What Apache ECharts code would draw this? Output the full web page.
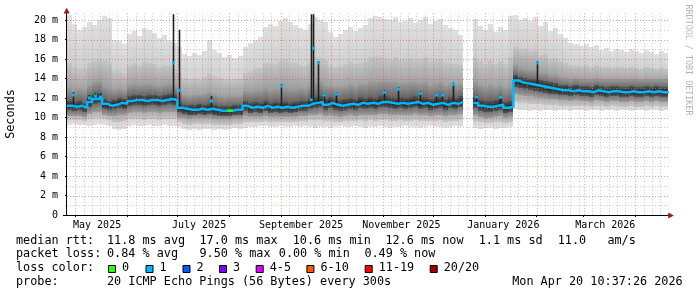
<!DOCTYPE html>
<html><head><meta charset="utf-8">
<script src="https://cdn.jsdelivr.net/npm/echarts@6/dist/echarts.min.js"></script>
<style>html,body{margin:0;padding:0;background:#fff}#c{width:697px;height:297px}</style>
</head><body><div id="c"></div><script>
// ---------- axis definitions ----------
const START_DATE = '2025-04-26';
const END_DAY = 359.5;
const SAMPLE_DAYS = 3;
const monthStartDates = ['2025-05-01','2025-06-01','2025-07-01','2025-08-01','2025-09-01','2025-10-01','2025-11-01','2025-12-01','2026-01-01','2026-02-01','2026-03-01','2026-04-01'];
const xLabelDates = ['2025-05-14','2025-07-14','2025-09-13','2025-11-12','2026-01-12','2026-03-14'];
const xLabelText = ['May 2025','July 2025','September 2025','November 2025','January 2026','March 2026'];
const yTickValues = [0,2,4,6,8,10,12,14,16,18,20];
const yTickText = ['0','2 m','4 m','6 m','8 m','10 m','12 m','14 m','16 m','18 m','20 m'];
const yMinorValues = [1,3,5,7,9,11,13,15,17,19];
const Y_MAX = 20.7;

// ---------- data (ms), one value per 3-day sample ----------
const median = [
11.2,11.1,11.2,11.0,11.6,11.9,12.0,11.4,11.2,11.3,
11.5,11.4,11.7,11.8,11.8,11.7,11.8,11.8,11.7,11.8,
11.9,11.8,11.0,10.9,10.8,10.8,10.9,10.8,10.9,10.8,
10.7,10.7,10.7,10.8,10.8,11.2,11.0,11.1,11.0,11.2,
11.0,11.1,11.0,11.1,11.0,11.1,11.2,11.2,11.4,11.5,
11.6,11.3,11.5,11.3,11.2,11.3,11.4,11.3,11.5,11.4,
11.5,11.4,11.6,11.6,11.5,11.4,11.5,11.4,11.5,11.6,
11.4,11.5,11.3,11.4,11.5,11.3,11.5,11.4,11.6,null,
null,11.5,11.2,11.1,11.1,11.2,11.3,11.0,11.1,13.8,
13.6,13.5,13.4,13.3,13.2,13.1,13.0,12.9,12.8,12.8,
12.7,12.8,12.7,12.7,12.6,12.8,12.7,12.6,12.7,12.7,
12.6,12.6,12.7,12.6,12.6,12.7,12.6,12.7,12.6,12.6];
const smokeMax = [
20.5,19.6,19.0,19.3,19.8,19.5,20.0,20.4,20.2,18.0,
17.8,17.5,18.6,18.9,18.4,19.2,19.0,18.7,18.2,18.5,
18.0,17.6,17.2,16.5,16.3,16.6,16.4,16.8,18.0,16.9,
16.6,16.2,16.4,16.1,16.3,17.2,17.6,18.0,18.3,19.3,
19.6,19.4,19.9,20.2,19.8,19.5,19.2,19.0,19.6,20.3,
20.0,19.8,18.8,18.3,18.6,19.0,19.3,18.9,19.2,19.5,
20.2,20.4,20.3,20.1,20.0,20.3,19.8,19.9,20.2,19.7,
20.0,20.3,19.6,19.9,20.1,19.5,19.2,19.0,18.5,null,
null,20.1,19.4,19.0,19.6,18.8,19.3,19.0,20.4,20.5,
20.0,20.2,19.9,20.3,19.4,19.8,18.9,19.2,18.6,18.2,
17.6,17.5,17.3,17.5,17.2,17.4,16.9,17.1,16.8,17.0,
16.9,16.7,17.0,16.8,16.6,16.9,16.7,16.5,16.8,16.6];
const smokeMin = [
9.2,9.3,9.2,9.2,9.1,9.2,9.3,9.2,9.1,8.8,
8.7,8.8,9.1,9.2,9.1,9.1,9.2,9.1,9.1,9.2,
9.1,9.1,9.0,8.8,8.7,8.8,8.7,8.8,8.8,8.7,
8.8,8.7,8.8,8.9,8.8,8.9,9.0,9.0,9.1,9.1,
9.0,9.0,9.1,9.0,9.0,9.1,9.0,9.1,9.0,8.9,
9.0,9.0,8.9,9.0,9.1,9.0,9.0,9.1,9.0,8.9,
9.0,9.0,9.1,9.0,8.9,9.0,9.0,9.1,9.0,9.0,
8.9,9.0,9.1,9.0,9.0,8.9,9.0,9.1,9.0,null,
null,8.9,8.8,8.9,8.9,8.8,8.9,8.9,9.0,10.9,
10.8,10.8,10.7,10.8,10.7,10.8,10.8,10.7,10.8,10.8,
10.7,10.8,10.8,10.7,10.8,10.8,10.7,10.8,10.8,10.7,
10.8,10.8,10.7,10.8,10.8,10.7,10.8,10.8,10.7,10.8];
const q10 = [
9.7,9.7,9.7,9.6,9.8,9.9,9.9,9.8,9.7,9.5,
9.5,9.6,9.8,9.8,9.8,9.7,9.8,9.8,9.7,9.8,
9.8,9.8,9.5,9.3,9.2,9.3,9.3,9.3,9.3,9.2,
9.2,9.2,9.2,9.3,9.3,9.5,9.5,9.5,9.5,9.6,
9.5,9.5,9.5,9.5,9.5,9.5,9.6,9.6,9.7,9.7,
9.7,9.6,9.6,9.5,9.5,9.6,9.6,9.6,9.7,9.6,
9.7,9.6,9.7,9.7,9.6,9.6,9.7,9.6,9.6,9.7,
9.6,9.6,9.6,9.6,9.7,9.5,9.6,9.6,9.7,null,
null,9.6,9.5,9.4,9.4,9.5,9.5,9.4,9.5,11.6,
11.5,11.5,11.4,11.4,11.4,11.3,11.3,11.3,11.2,11.2,
11.2,11.2,11.2,11.2,11.1,11.2,11.2,11.1,11.2,11.2,
11.1,11.1,11.2,11.1,11.1,11.2,11.1,11.2,11.1,11.1];
const q25 = [
10.2,10.2,10.2,10.1,10.4,10.6,10.6,10.3,10.2,10.2,
10.3,10.3,10.5,10.6,10.6,10.5,10.6,10.6,10.5,10.6,
10.6,10.6,10.0,9.9,9.8,9.9,9.9,9.9,9.9,9.8,
9.8,9.8,9.8,9.9,9.9,10.2,10.1,10.1,10.1,10.2,
10.1,10.1,10.1,10.1,10.1,10.1,10.2,10.2,10.3,10.3,
10.4,10.2,10.3,10.2,10.1,10.2,10.3,10.2,10.3,10.3,
10.3,10.3,10.4,10.4,10.3,10.3,10.3,10.3,10.3,10.4,
10.3,10.3,10.2,10.3,10.3,10.2,10.3,10.3,10.4,null,
null,10.3,10.1,10.0,10.0,10.1,10.2,10.0,10.1,12.4,
12.3,12.2,12.2,12.1,12.0,12.0,11.9,11.9,11.8,11.8,
11.7,11.8,11.7,11.7,11.6,11.8,11.7,11.6,11.7,11.7,
11.6,11.6,11.7,11.6,11.6,11.7,11.6,11.7,11.6,11.6];
const q40 = [
10.8,10.7,10.8,10.6,11.1,11.4,11.5,10.9,10.8,10.9,
11.0,10.9,11.2,11.3,11.3,11.2,11.3,11.3,11.2,11.3,
11.4,11.3,10.6,10.4,10.3,10.3,10.4,10.3,10.4,10.3,
10.2,10.2,10.2,10.3,10.3,10.7,10.5,10.6,10.5,10.7,
10.5,10.6,10.5,10.6,10.5,10.6,10.7,10.7,10.9,11.0,
11.1,10.8,11.0,10.8,10.7,10.8,10.9,10.8,11.0,10.9,
11.0,10.9,11.1,11.1,11.0,10.9,11.0,10.9,11.0,11.1,
10.9,11.0,10.8,10.9,11.0,10.8,11.0,10.9,11.1,null,
null,11.0,10.7,10.6,10.6,10.7,10.8,10.5,10.6,13.1,
13.0,12.9,12.8,12.7,12.6,12.5,12.4,12.4,12.3,12.3,
12.2,12.3,12.2,12.2,12.1,12.3,12.2,12.1,12.2,12.2,
12.1,12.1,12.2,12.1,12.1,12.2,12.1,12.2,12.1,12.1];
const q60 = [
11.7,11.6,11.7,11.5,12.1,12.4,12.5,11.9,11.7,11.8,
12.0,11.9,12.2,12.3,12.3,12.2,12.3,12.3,12.2,12.3,
12.4,12.3,11.5,11.3,11.3,11.3,11.4,11.3,11.4,11.3,
11.2,11.2,11.2,11.3,11.3,11.7,11.5,11.6,11.5,11.7,
11.5,11.6,11.5,11.6,11.5,11.6,11.7,11.7,11.9,12.1,
12.2,11.9,12.1,11.9,11.8,11.9,12.0,11.9,12.1,12.0,
12.1,12.0,12.2,12.2,12.1,12.0,12.1,12.0,12.1,12.2,
12.0,12.1,11.9,12.0,12.1,11.9,12.1,12.0,12.2,null,
null,12.1,11.8,11.7,11.7,11.8,11.9,11.6,11.7,14.4,
14.2,14.1,14.0,13.9,13.8,13.7,13.6,13.5,13.3,13.3,
13.2,13.3,13.2,13.2,13.1,13.3,13.2,13.1,13.2,13.2,
13.1,13.1,13.2,13.1,13.1,13.2,13.1,13.2,13.1,13.1];
const q75 = [
13.0,12.8,12.9,12.8,13.3,13.6,13.7,13.2,13.0,12.8,
12.9,12.8,13.3,13.4,13.3,13.4,13.4,13.3,13.2,13.3,
13.4,13.2,12.6,12.3,12.2,12.3,12.3,12.4,12.6,12.4,
12.2,12.1,12.2,12.2,12.2,12.7,12.7,12.8,12.8,13.0,
12.8,12.9,12.9,13.0,12.9,12.9,13.0,12.9,13.2,13.5,
13.6,13.3,13.2,13.1,13.1,13.2,13.4,13.2,13.4,13.4,
13.6,13.6,13.7,13.7,13.6,13.6,13.5,13.5,13.6,13.6,
13.5,13.6,13.3,13.4,13.6,13.3,13.4,13.3,13.4,null,
null,13.6,13.3,13.1,13.3,13.1,13.3,13.0,13.2,15.4,
15.1,15.0,14.9,14.9,14.6,14.6,14.4,14.4,14.2,14.1,
14.0,14.1,14.0,14.0,13.9,14.1,14.0,13.9,14.0,14.0,
13.9,13.9,14.0,13.9,13.9,14.0,13.9,14.0,13.9,13.9];
const q90 = [
15.6,15.2,15.0,15.1,15.6,15.8,16.0,15.9,15.7,14.8,
14.8,14.6,15.4,15.6,15.4,15.7,15.6,15.5,15.2,15.4,
15.3,15.0,14.6,14.1,14.0,14.1,14.0,14.2,14.6,14.3,
14.1,13.9,14.0,13.9,14.0,14.6,14.8,15.0,15.1,15.6,
15.6,15.5,15.8,16.0,15.7,15.6,15.4,15.3,15.7,16.2,
16.1,15.9,15.4,15.2,15.3,15.5,15.7,15.5,15.6,15.8,
16.2,16.3,16.2,16.1,16.0,16.2,15.9,15.9,16.1,15.9,
16.0,16.2,15.8,15.9,16.0,15.7,15.6,15.5,15.4,null,
null,16.2,15.8,15.5,15.9,15.5,15.8,15.5,16.2,17.2,
17.0,17.0,16.8,16.9,16.4,16.5,16.0,16.1,15.8,15.6,
15.4,15.4,15.3,15.4,15.2,15.4,15.2,15.2,15.1,15.2,
15.2,15.1,15.2,15.1,15.0,15.2,15.1,15.0,15.1,15.0];
// single-step spikes: day offset, top of dark column, median value
const spikeDays = [3.6,13.2,17.0,19.7,63.4,67.0,86.1,128.0,145.7,146.9,150.2,153.7,160.9,189.6,198.0,211.2,220.7,224.3,230.9,244.7,259.0,281.2];
const spikeTops = [12.6,12.3,12.5,12.4,20.6,19.0,12.2,13.4,20.6,20.6,15.8,12.5,12.6,12.8,13.1,12.7,12.5,12.5,13.6,12.3,12.3,15.8];
const spikeMeds = [12.3,12.0,12.2,12.1,15.6,12.8,11.7,13.2,11.8,17.1,15.6,12.3,12.4,12.6,12.9,12.5,12.3,12.3,13.4,12.1,12.1,15.6];
const lossZeroSamples = [32];

// ---------- legend texts ----------
const rttItems = ['median rtt:','11.8 ms avg','17.0 ms max','10.6 ms min','12.6 ms now','1.1 ms sd','11.0   am/s'];
const lossItems = ['packet loss:','0.84 % avg','9.50 % max','0.00 % min','0.49 % now'];
const lossColorTitle = 'loss color:';
const lossLabels = ['0','1','2','3','4-5','6-10','11-19','20/20'];
const probeItems = ['probe:','20 ICMP Echo Pings (56 Bytes) every 300s','Mon Apr 20 10:37:26 2026'];
const yTitle = 'Seconds';
const watermark = 'RRDTOOL / TOBI OETIKER';

// ---------- layout & style ----------
const lossColors = ['#26ff00','#00b8ff','#0059ff','#7e00ff','#dd00ff','#ff5500','#ff0000','#a10000'];
const rttX = [16,107,199.5,292.7,385.4,478.7,557.7];
const lossX = [16,107,199.5,278.8,364.4];
const boxX = [108,145.5,182.5,219,255.7,306.4,364.7,429.7];
const probeX = [16,107,512.2];
const rowY = [240.6,254.4,268.4,282.2];
const MONO = '"DejaVu Sans Mono", monospace';
// [edge colour, colour at the median] for each smoke band, outermost first
const bandStyles = [['#e0e0e0','#bcbcbc'],['#c6c6c6','#828282'],['#9c9c9c','#4e4e4e'],['#565656','#222222']];

const dayOf = s => (Date.parse(s + 'T00:00:00Z') - Date.parse(START_DATE + 'T00:00:00Z')) / 86400000;
const monthDays = monthStartDates.map(dayOf);
const minorDays = [];
monthDays.forEach(d => { for (let i = 1; i <= 5; i++) { const v = d + 5 * i; if (v < END_DAY) minorDays.push(v); } });
const labelDays = xLabelDates.map(dayOf);

function bandSeries(lo, hi, style, z) {
  const data = [];
  for (let k = 0; k < lo.length; k++) if (lo[k] != null && hi[k] != null) data.push([k * SAMPLE_DAYS, lo[k], hi[k], median[k]]);
  return {
    type: 'custom', z, silent: true, clip: true, animation: false, data,
    encode: { x: 0, y: [1, 2] },
    renderItem(params, api) {
      const d0 = api.value(0);
      const a = api.coord([d0, api.value(2)]);
      const b = api.coord([d0 + SAMPLE_DAYS, api.value(1)]);
      const m = api.coord([d0, api.value(3)]);
      const x0 = Math.round(a[0]), x1 = Math.round(b[0]);
      const y0 = Math.round(a[1]), y1 = Math.round(b[1]);
      let t = (m[1] - y0) / Math.max(1, (y1 - y0));
      t = Math.min(0.97, Math.max(0.03, t));
      const fill = new echarts.graphic.LinearGradient(0, 0, 0, 1, [
        { offset: 0, color: style[0] }, { offset: t, color: style[1] }, { offset: 1, color: style[0] }
      ]);
      return { type: 'rect', shape: { x: x0, y: y0, width: x1 - x0, height: y1 - y0 }, style: { fill } };
    }
  };
}
function vGrid(days, color, z) {
  return {
    type: 'custom', z, silent: true, animation: false, data: days.map(d => [d, 0]),
    renderItem(params, api) {
      const cs = params.coordSys;
      const x = Math.round(api.coord([api.value(0), 0])[0]) + 0.5;
      return { type: 'line', shape: { x1: x, y1: cs.y, x2: x, y2: cs.y + cs.height }, style: { stroke: color, lineWidth: 1, lineDash: [1, 2] } };
    }
  };
}
function hGrid(vals, color, z) {
  return {
    type: 'custom', z, silent: true, animation: false, data: vals.map(v => [0, v]),
    renderItem(params, api) {
      const cs = params.coordSys;
      const y = Math.round(api.coord([0, api.value(1)])[1]) + 0.5;
      return { type: 'line', shape: { x1: cs.x, y1: y, x2: cs.x + cs.width, y2: y }, style: { stroke: color, lineWidth: 1, lineDash: [1, 2] } };
    }
  };
}

const medLine = [];
for (let k = 0; k < median.length; k++) {
  if (median[k] == null) { medLine.push([k * SAMPLE_DAYS, '-']); continue; }
  medLine.push([k * SAMPLE_DAYS, median[k]], [(k + 1) * SAMPLE_DAYS, median[k]]);
}
const greenLine = [];
lossZeroSamples.forEach(k => { greenLine.push([k * SAMPLE_DAYS, median[k]], [(k + 1) * SAMPLE_DAYS, median[k]], [k * SAMPLE_DAYS, '-']); });

const chart = echarts.init(document.getElementById('c'), null, { renderer: 'canvas' });
const graphic = [];
graphic.push({ type: 'line', shape: { x1: 66.5, y1: 216, x2: 66.5, y2: 11 }, style: { stroke: '#000', lineWidth: 1 }, z: 20 });
graphic.push({ type: 'line', shape: { x1: 63, y1: 215.5, x2: 669, y2: 215.5 }, style: { stroke: '#000', lineWidth: 1 }, z: 20 });
graphic.push({ type: 'polygon', shape: { points: [[66.7, 7.8], [63.6, 13.6], [69.8, 13.6]] }, style: { fill: '#a01818' }, z: 21 });
graphic.push({ type: 'polygon', shape: { points: [[673.8, 215.5], [668.2, 212.6], [668.2, 218.4]] }, style: { fill: '#a01818' }, z: 21 });
graphic.push({ type: 'text', x: 11, y: 114, rotation: Math.PI / 2, style: { text: yTitle, font: '11.8px ' + MONO, fill: '#000', align: 'center', verticalAlign: 'middle' } });
graphic.push({ type: 'text', x: 688.3, y: 60, rotation: -Math.PI / 2, style: { text: watermark, font: '8.4px ' + MONO, fill: '#b4b4b4', align: 'center', verticalAlign: 'middle' } });
const LF = '11.8px ' + MONO;
rttItems.forEach((t, i) => graphic.push({ type: 'text', x: rttX[i], y: rowY[0], style: { text: t, font: LF, fill: '#000', verticalAlign: 'middle' } }));
lossItems.forEach((t, i) => graphic.push({ type: 'text', x: lossX[i], y: rowY[1], style: { text: t, font: LF, fill: '#000', verticalAlign: 'middle' } }));
graphic.push({ type: 'text', x: 16, y: rowY[2], style: { text: lossColorTitle, font: LF, fill: '#000', verticalAlign: 'middle' } });
lossLabels.forEach((t, i) => {
  graphic.push({ type: 'rect', shape: { x: boxX[i] + 0.5, y: 265.5, width: 7, height: 7 }, style: { fill: lossColors[i], stroke: '#000', lineWidth: 1 } });
  graphic.push({ type: 'text', x: boxX[i] + 14, y: rowY[2], style: { text: t, font: LF, fill: '#000', verticalAlign: 'middle' } });
});
probeItems.forEach((t, i) => graphic.push({ type: 'text', x: probeX[i], y: rowY[3], style: { text: t, font: LF, fill: '#000', verticalAlign: 'middle' } }));

chart.setOption({
  animation: false,
  backgroundColor: '#ffffff',
  grid: { left: 67, right: 29.06, top: 215 - Y_MAX * 9.75, bottom: 82, containLabel: false },
  xAxis: {
    type: 'value', min: 0, max: END_DAY,
    axisLine: { show: false }, splitLine: { show: false },
    axisTick: { show: true, customValues: monthDays, length: 2, lineStyle: { color: '#000' } },
    axisLabel: {
      customValues: labelDays, margin: 5, color: '#000', fontFamily: MONO, fontSize: 10,
      formatter: v => { let b = 0; labelDays.forEach((d, i) => { if (Math.abs(d - v) < Math.abs(labelDays[b] - v)) b = i; }); return xLabelText[b]; }
    }
  },
  yAxis: {
    type: 'value', min: 0, max: Y_MAX,
    axisLine: { show: false }, splitLine: { show: false },
    axisTick: { show: true, customValues: yTickValues, length: 2, lineStyle: { color: '#000' } },
    axisLabel: {
      customValues: yTickValues, margin: 9, color: '#000', fontFamily: MONO, fontSize: 10,
      formatter: v => yTickText[yTickValues.indexOf(Math.round(v))]
    }
  },
  graphic,
  series: [
    bandSeries(smokeMin, smokeMax, bandStyles[0], 2),
    bandSeries(q10, q90, bandStyles[1], 3),
    bandSeries(q25, q75, bandStyles[2], 4),
    bandSeries(q40, q60, bandStyles[3], 5),
    hGrid(yMinorValues, 'rgba(150,150,150,0.5)', 6),
    vGrid(minorDays, 'rgba(150,150,150,0.5)', 6),
    hGrid(yTickValues.filter(v => v > 0), 'rgba(230,70,70,0.55)', 7),
    vGrid(monthDays, 'rgba(230,70,70,0.55)', 7),
    {
      type: 'custom', z: 8, silent: true, clip: true, animation: false,
      data: spikeDays.map((d, i) => [d, spikeTops[i], spikeMeds[i]]),
      renderItem(params, api) {
        const d = api.value(0);
        const k = Math.floor(d / SAMPLE_DAYS);
        const base = median[k] != null ? median[k] : api.value(2);
        const pt = api.coord([d, api.value(1)]);
        const pb = api.coord([d, base]);
        const pm = api.coord([d, api.value(2)]);
        const x = Math.round(pt[0]) + 0.5;
        return { type: 'group', children: [
          { type: 'line', shape: { x1: x, y1: pt[1], x2: x, y2: pb[1] }, style: { stroke: '#1e1e1e', lineWidth: 1.6 } },
          { type: 'rect', shape: { x: x - 1.5, y: pm[1] - 1.5, width: 3, height: 3 }, style: { fill: '#00b8ff' } }
        ] };
      }
    },
    { type: 'line', z: 9, data: medLine, symbol: 'none', showSymbol: false, silent: true, connectNulls: false,
      lineStyle: { color: '#00b8ff', width: 2.5 } },
    { type: 'line', z: 10, data: greenLine, symbol: 'none', showSymbol: false, silent: true, connectNulls: false,
      lineStyle: { color: '#26ff00', width: 2.5 } }
  ]
});
</script></body></html>
